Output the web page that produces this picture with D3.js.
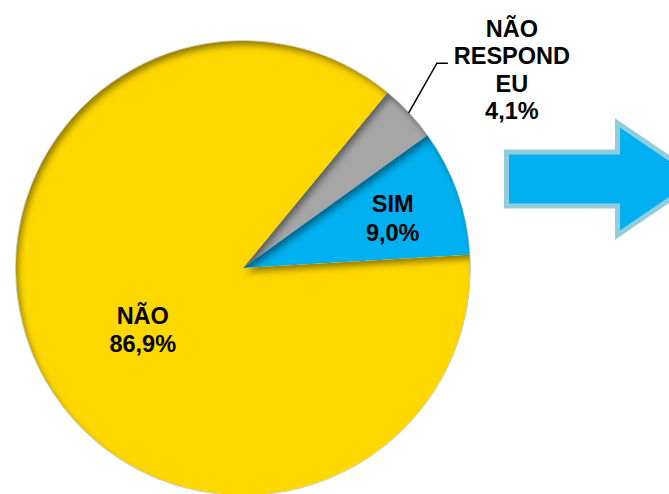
<!DOCTYPE html>
<html>
<head>
<meta charset="utf-8">
<script src="https://cdn.jsdelivr.net/npm/d3@7"></script>
<style>
  body { margin: 0; background: #fff; }
  text { font-family: "Liberation Sans", Arial, sans-serif; font-weight: bold; fill: #000; }
</style>
</head>
<body>
<div id="chart"></div>
<script>
// answers, in drawing order (starting at the top right, clockwise)
var categories = ["NÃO RESPONDEU", "SIM", "NÃO"];
var labelLines = [["NÃO", "RESPOND", "EU"], ["SIM"], ["NÃO"]];
var percentLabels = ["4,1%", "9,0%", "86,9%"];
var values = [4.1, 9.0, 86.9];
var colors = ["#A6A6A6", "#00B0F0", "#FFD800"];

var width = 669, height = 494;
var cx = 243, cy = 268, r = 227;

var svg = d3.select("#chart").append("svg")
  .attr("width", width)
  .attr("height", height);

// inner shadow, like the office "bevel" look
var filter = svg.append("defs").append("filter")
  .attr("id", "inner")
  .attr("x", "-10%").attr("y", "-10%")
  .attr("width", "120%").attr("height", "120%");
filter.append("feOffset").attr("in", "SourceAlpha").attr("dx", 3).attr("dy", 5).attr("result", "off");
filter.append("feGaussianBlur").attr("in", "off").attr("stdDeviation", 3).attr("result", "blur");
filter.append("feComposite").attr("operator", "out").attr("in", "SourceAlpha").attr("in2", "blur").attr("result", "inv");
filter.append("feFlood").attr("flood-color", "#000").attr("flood-opacity", 0.7).attr("result", "col");
filter.append("feComposite").attr("operator", "in").attr("in", "col").attr("in2", "inv").attr("result", "shadow");
filter.append("feComposite").attr("operator", "over").attr("in", "shadow").attr("in2", "SourceGraphic");

var startDeg = 39.5;
var pie = d3.pie().sort(null).value(function(d) { return d; })
  .startAngle(startDeg * Math.PI / 180)
  .endAngle((startDeg + 360) * Math.PI / 180);

var arcs = pie(values);
var arc = d3.arc().innerRadius(0).outerRadius(r);

var g = svg.append("g").attr("transform", "translate(" + cx + "," + cy + ")");

// faint outline ring
g.append("circle").attr("r", r + 0.5).attr("fill", "none")
  .attr("stroke", "#8f93a8").attr("stroke-width", 1).attr("opacity", 0.5);

g.selectAll("path.slice").data(arcs).enter().append("path")
  .attr("class", "slice")
  .attr("d", arc)
  .attr("fill", function(d, i) { return colors[i]; })
  .attr("filter", "url(#inner)");

// labels inside the slices
var fontSize = 23.5, lineH = 28.5;
var inside = [null, {k: 0.70, dx: 0, dy: 3}, {k: 0.52, dx: 5, dy: 8}];
arcs.forEach(function(d, i) {
  if (!inside[i]) return;
  var a = (d.startAngle + d.endAngle) / 2;
  var rr = r * inside[i].k;
  var x = Math.sin(a) * rr + inside[i].dx, y = -Math.cos(a) * rr + inside[i].dy;
  var lines = labelLines[i].concat([percentLabels[i]]);
  var t = g.append("text").attr("text-anchor", "middle").style("font-size", fontSize + "px");
  lines.forEach(function(l, j) {
    t.append("tspan").attr("x", x)
      .attr("y", y + (j - (lines.length - 1) / 2) * lineH + fontSize * 0.36)
      .text(l);
  });
});

// outside label with leader line for "não respondeu"
var nr = arcs[0];
var am = (nr.startAngle + nr.endAngle) / 2;
var p0 = [Math.sin(am) * r, -Math.cos(am) * r];
var p1 = [Math.sin(am - 0.06) * (r + 55), -Math.cos(am - 0.06) * (r + 55)];
var p2 = [p1[0] + 11, p1[1]];
g.append("polyline")
  .attr("points", [p0, p1, p2].map(function(p) { return p.join(","); }).join(" "))
  .attr("fill", "none").attr("stroke", "#000").attr("stroke-width", 1.5);

var nrLines = labelLines[0].concat([percentLabels[0]]);
var t0 = g.append("text").attr("text-anchor", "middle").style("font-size", fontSize + "px");
nrLines.forEach(function(l, j) {
  t0.append("tspan").attr("x", p2[0] + 64)
    .attr("y", p2[1] + (j - 1) * 27.5 + 1)
    .text(l);
});

// big arrow on the right
var ax = 506.5, ay = 179, bodyH = 54, headX = 617.5, headH = 112, tipX = 700;
svg.append("path")
  .attr("d", "M" + ax + "," + (ay - bodyH / 2) +
    "L" + headX + "," + (ay - bodyH / 2) +
    "L" + headX + "," + (ay - headH / 2) +
    "L" + tipX + "," + ay +
    "L" + headX + "," + (ay + headH / 2) +
    "L" + headX + "," + (ay + bodyH / 2) +
    "L" + ax + "," + (ay + bodyH / 2) + "Z")
  .attr("fill", "#00B0F0")
  .attr("stroke", "#92CDDC")
  .attr("stroke-width", 5);
</script>
</body>
</html>
